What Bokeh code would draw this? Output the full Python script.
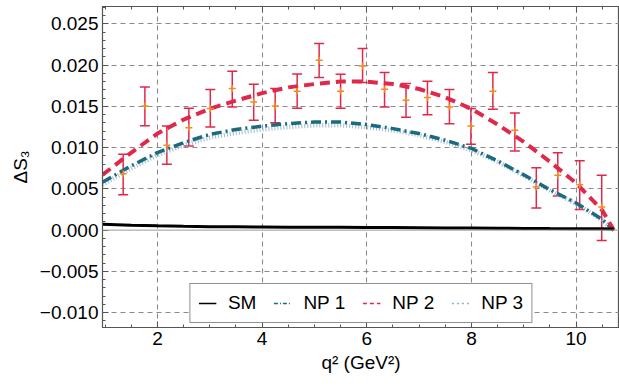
from bokeh.plotting import figure
from bokeh.models import (ColumnDataSource, Whisker, TeeHead, Legend, LegendItem,
                          LinearAxis, FixedTicker, CustomJSTickFormatter, Span, Range1d,
                          CDSView, IndexFilter)
from bokeh.embed import file_html
from bokeh.resources import INLINE

# ---- curves ----
q2_curve = [0.95, 1.5, 2.0, 2.5, 3.0, 3.5, 4.0, 4.5, 5.0, 5.5, 6.0, 6.5, 7.0, 7.5,
            8.0, 8.5, 9.0, 9.5, 10.0, 10.5, 10.72]
sm  = [0.00070, 0.00060, 0.00052, 0.00046, 0.00042, 0.00040, 0.00038, 0.00036, 0.00035,
       0.00034, 0.00033, 0.00031, 0.00029, 0.00027, 0.00025, 0.00023, 0.00021, 0.00019,
       0.00018, 0.00016, 0.00015]
np1 = [0.0058, 0.0078, 0.0094, 0.0106, 0.0116, 0.0122, 0.0126, 0.0129, 0.0131, 0.0131,
       0.0128, 0.0123, 0.0117, 0.0109, 0.0099, 0.0084, 0.0067, 0.0049, 0.0033, 0.0013, 0.0]
np2 = [0.0067, 0.0094, 0.0117, 0.0134, 0.0147, 0.0157, 0.0166, 0.0173, 0.0177, 0.0180,
       0.0180, 0.0177, 0.0171, 0.0161, 0.0147, 0.0128, 0.0107, 0.0083, 0.0057, 0.0024, 0.0]
np3 = [0.0055, 0.0075, 0.0091, 0.0103, 0.0112, 0.0118, 0.0122, 0.0125, 0.0127, 0.0127,
       0.0125, 0.0121, 0.0115, 0.0107, 0.0097, 0.0083, 0.0066, 0.0048, 0.0032, 0.0012, 0.0]

# ---- pseudo-data points with error bars ----
q2_pts = [1.345, 1.76, 2.18, 2.60, 3.01, 3.43, 3.84, 4.25, 4.67, 5.09, 5.50, 5.92,
          6.34, 6.75, 7.16, 7.58, 7.99, 8.41, 8.83, 9.24, 9.65, 10.07, 10.49]
ds3_pts = [0.00683, 0.01505, 0.01028, 0.01242, 0.01473, 0.01715, 0.01553, 0.01505,
           0.01683, 0.02060, 0.01683, 0.01990, 0.01707, 0.01574, 0.01606, 0.01493,
           0.01262, 0.01683, 0.01210, 0.00522, 0.00664, 0.00550, 0.00279]
ds3_hi = [0.00919, 0.01735, 0.01262, 0.01477, 0.01703, 0.01926, 0.01768, 0.01715,
          0.01893, 0.02261, 0.01890, 0.02200, 0.01909, 0.01776, 0.01804, 0.01703,
          0.01473, 0.01909, 0.01420, 0.00756, 0.00938, 0.00841, 0.00664]
ds3_lo = [0.00429, 0.01266, 0.00797, 0.01019, 0.01250, 0.01493, 0.01331, 0.01302,
          0.01477, 0.01849, 0.01477, 0.01788, 0.01493, 0.01368, 0.01399, 0.01290,
          0.01040, 0.01465, 0.00959, 0.00267, 0.00413, 0.00251, -0.00125]

x_ticks = [2, 4, 6, 8, 10]
x_minor = [1.0, 1.5, 2.5, 3.0, 3.5, 4.5, 5.0, 5.5, 6.5, 7.0, 7.5, 8.5, 9.0, 9.5, 10.5]
y_ticks = [-0.010, -0.005, 0.000, 0.005, 0.010, 0.015, 0.020, 0.025]
y_minor = [round(-0.012 + 0.001 * i, 3) for i in range(40)]

FONT = "Liberation Sans"
RED = "#e0284a"
TEAL = "#1b6a80"
LIGHT = "#8fb4c6"

p = figure(width=619, height=390, x_range=Range1d(0.95, 10.83), y_range=Range1d(-0.0118, 0.0271),
           output_backend="svg", toolbar_location=None,
           min_border_left=102, min_border_right=0, min_border_top=6, min_border_bottom=63,
           outline_line_color="#555555", outline_line_width=1.2)

fmt = CustomJSTickFormatter(code="return (tick < -1e-9 ? '\u2212' : '') + Math.abs(tick).toFixed(3);")

for ax in (p.xaxis[0], p.yaxis[0]):
    ax.major_tick_in = 6
    ax.major_tick_out = 0
    ax.minor_tick_in = 3
    ax.minor_tick_out = 0
    ax.axis_line_color = "#555555"
    ax.major_tick_line_color = "#555555"
    ax.minor_tick_line_color = "#555555"
    ax.major_label_text_font = FONT
    ax.major_label_text_font_size = "19px"
    ax.major_label_text_color = "black"
    ax.axis_label_text_font = FONT
    ax.axis_label_text_font_size = "19px"
    ax.axis_label_text_font_style = "normal"
    ax.axis_label_text_color = "black"
    ax.major_label_standoff = 4

p.xaxis.ticker = FixedTicker(ticks=x_ticks, minor_ticks=x_minor)
p.yaxis.ticker = FixedTicker(ticks=y_ticks, minor_ticks=y_minor)
p.yaxis.formatter = fmt
p.xaxis.axis_label = "q² (GeV²)"
p.yaxis.axis_label = "ΔS₃"
p.xaxis.axis_label_standoff = 4
p.yaxis.axis_label_standoff = 6

top = LinearAxis(ticker=FixedTicker(ticks=x_ticks, minor_ticks=x_minor),
                 formatter=CustomJSTickFormatter(code="return '';"),
                 major_tick_in=6, major_tick_out=0, minor_tick_in=3, minor_tick_out=0,
                 axis_line_color="#555555", major_tick_line_color="#555555",
                 minor_tick_line_color="#555555", major_label_standoff=0)
p.add_layout(top, "above")

p.grid.grid_line_color = "#8a8a8a"
p.grid.grid_line_dash = "5 4"
p.grid.grid_line_width = 1.1
p.xgrid.ticker = FixedTicker(ticks=x_ticks)
p.ygrid.ticker = FixedTicker(ticks=[t for t in y_ticks if t != 0.0])

p.add_layout(Span(location=0, dimension="width", line_color="#999999", line_width=1))

cs = ColumnDataSource(dict(x=q2_curve, sm=sm, np1=np1, np2=np2, np3=np3))
p.line("x", "np3", source=cs, line_color=LIGHT, line_width=4.5, line_dash="1 2", line_alpha=0.9)
p.line("x", "np1", source=cs, line_color=TEAL, line_width=3.5, line_dash="10 4 2 4")
p.line("x", "np2", source=cs, line_color=RED, line_width=4, line_dash="10 6")
p.line("x", "sm", source=cs, line_color="black", line_width=3)

ps = ColumnDataSource(dict(x=q2_pts, y=ds3_pts, hi=ds3_hi, lo=ds3_lo))
w = Whisker(base="x", upper="hi", lower="lo", source=ps, line_color=RED, line_width=1.5,
            upper_head=TeeHead(size=10, line_color=RED, line_width=1.5),
            lower_head=TeeHead(size=10, line_color=RED, line_width=1.5))
p.add_layout(w)
p.scatter("x", "y", source=ps, marker="cross", size=7, line_color="#f08a24", line_width=1.5)

# legend proxies: thin styles, one-point views (draw nothing on the plot)
one = CDSView(filter=IndexFilter([0]))
r_sm = p.line("x", "sm", source=cs, view=one, line_color="black", line_width=1.3)
r1 = p.line("x", "np1", source=cs, view=CDSView(filter=IndexFilter([0])),
            line_color=TEAL, line_width=1.3, line_dash="4 2 1 2")
r2 = p.line("x", "np2", source=cs, view=CDSView(filter=IndexFilter([0])),
            line_color=RED, line_width=1.3, line_dash="4 3")
r3 = p.line("x", "np3", source=cs, view=CDSView(filter=IndexFilter([0])),
            line_color=LIGHT, line_width=1.6, line_dash="2 3")

leg = Legend(items=[LegendItem(label="SM", renderers=[r_sm]),
                    LegendItem(label="NP 1", renderers=[r1]),
                    LegendItem(label="NP 2", renderers=[r2]),
                    LegendItem(label="NP 3", renderers=[r3])],
             orientation="horizontal", location="bottom_center",
             label_text_font=FONT, label_text_font_size="19px", label_text_color="black",
             glyph_width=18, glyph_height=18, label_standoff=12, spacing=17, padding=8,
             margin=4, border_line_color="#222222", border_line_width=1.2,
             background_fill_color="white", background_fill_alpha=1.0)
p.add_layout(leg, "center")

open("out.html", "w").write(file_html(p, INLINE))
